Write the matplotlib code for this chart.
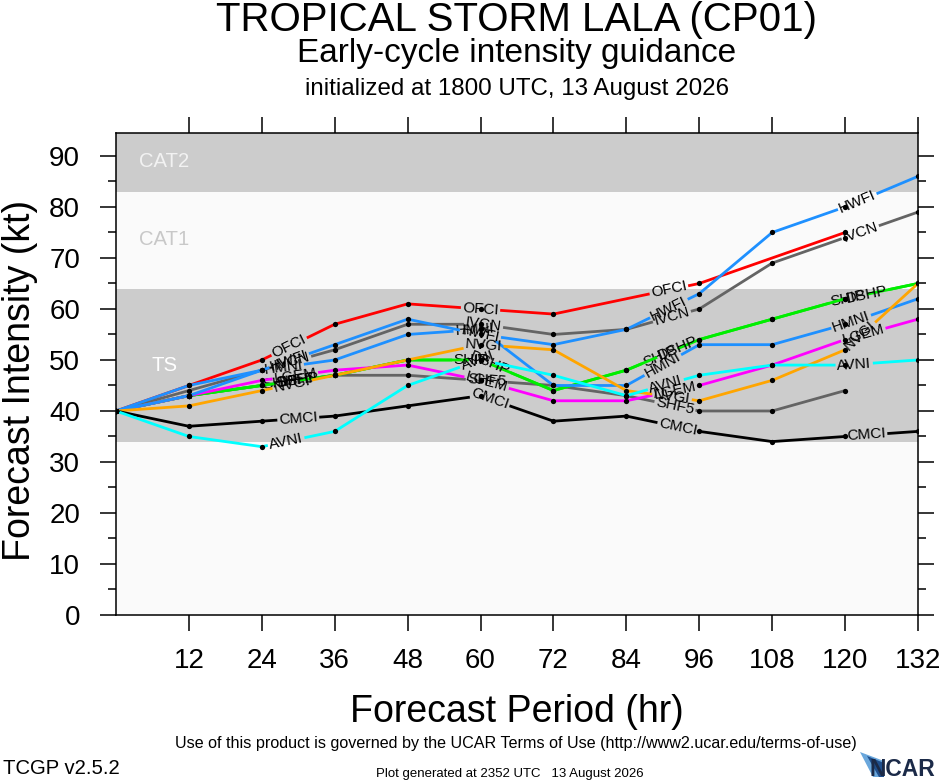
import numpy as np
import matplotlib
matplotlib.use("Agg")
import matplotlib.pyplot as plt
from matplotlib.ticker import MultipleLocator, NullLocator
from matplotlib.patches import Polygon

plt.rcParams['font.family'] = ['Liberation Sans', 'DejaVu Sans']

# ---------------- data ----------------
HOURS = [0, 12, 24, 36, 48, 60, 72, 84, 96, 108, 120, 132]
OFCI_HOURS = [0, 12, 24, 36, 48, 60, 72, 96, 120]
SHF5_HOURS = [0, 12, 24, 36, 48, 60, 72, 84, 96, 108, 120]

OFCI = [40, 45, 50, 57, 61, 60, 59, 65, 75]
HWFI = [40, 45, 48, 53, 58, 55, 53, 56, 63, 75, 80, 86]
HMNI = [40, 43, 48, 50, 55, 56, 45, 45, 53, 53, 57, 62]
IVCN = [40, 44, 48, 52, 57, 57, 55, 56, 60, 69, 74, 79]
SHF5 = [40, 43, 45, 47, 47, 46, 45, 43, 40, 40, 44]
SHIP = [40, 43, 45, 47, 50, 50, 44, 48, 54, 58, 62, 65]
DSHP = [40, 43, 45, 47, 50, 50, 44, 48, 54, 58, 62, 65]
LGEM = [40, 43, 46, 48, 49, 46, 42, 42, 45, 49, 54, 58]
NVGI = [40, 41, 44, 47, 50, 53, 52, 44, 42, 46, 52, 65]
AVNI = [40, 35, 33, 36, 45, 50, 47, 43, 47, 49, 49, 50]
CMCI = [40, 37, 38, 39, 41, 43, 38, 39, 36, 34, 35, 36]

X_TICKS = [12, 24, 36, 48, 60, 72, 84, 96, 108, 120, 132]
Y_TICKS = [0, 10, 20, 30, 40, 50, 60, 70, 80, 90]

BANDS = [(34, 64), (83, 100)]          # TS and CAT2 shading (kt)
BAND_LABELS = [("CAT2", 88.9, '#f2f2f2'), ("CAT1", 73.7, '#c8c8c8'), ("TS", 49.0, '#ffffff')]

# (name, hours, values, colour, label shift in hours)
MODELS = [
    ("OFCI", OFCI_HOURS, OFCI, '#ff0000', 0.0),
    ("SHF5", SHF5_HOURS, SHF5, '#646464', 1.0),
    ("IVCN", HOURS, IVCN, '#646464', 0.5),
    ("SHIP", HOURS, SHIP, '#00ee00', -1.5),
    ("DSHP", HOURS, DSHP, '#00ee00', 1.5),
    ("LGEM", HOURS, LGEM, '#ff00ff', 1.0),
    ("HMNI", HOURS, HMNI, '#1e90ff', -1.0),
    ("HWFI", HOURS, HWFI, '#1e90ff', 0.0),
    ("NVGI", HOURS, NVGI, '#ffa500', 0.5),
    ("CMCI", HOURS, CMCI, '#000000', 1.5),
    ("AVNI", HOURS, AVNI, '#00ffff', -0.5),
]
LABEL_AT = [28.5, 60.0, 91.0, 122.0]

# ---------------- figure ----------------
W, H = 940, 780
fig = plt.figure(figsize=(W / 100, H / 100), dpi=100)
ax_l, ax_r, ax_t, ax_b = 116, 918, 133, 615
ax = fig.add_axes([ax_l / W, 1 - ax_b / H, (ax_r - ax_l) / W, (ax_b - ax_t) / H])
ax.set_xlim(0, 132)
ax.set_ylim(0, 94.5)
ax.set_facecolor('#fafafa')
for lo, hi in BANDS:
    ax.axhspan(lo, hi, color='#cccccc', lw=0, zorder=0.5)
for txt, yv, col in BAND_LABELS:
    ax.text(8, yv, txt, ha='center', va='center', color=col, fontsize=14.6, zorder=1)

renderer = fig.canvas.get_renderer()
p0 = ax.transData.transform((0, 0))
p1 = ax.transData.transform((1, 1))
sx, sy = p1 - p0


def draw_model(name, hrs, vals, color, shift, z):
    hrs = np.asarray(hrs, float)
    vals = np.asarray(vals, float)
    gaps = []
    for c0 in LABEL_AT:
        c = c0 + shift
        if c > hrs[-1] - 3:
            continue
        yc = np.interp(c, hrs, vals)
        i = int(np.searchsorted(hrs, c))
        i = min(max(i, 1), len(hrs) - 1)
        dx = (hrs[i] - hrs[i - 1]) * sx
        dy = (vals[i] - vals[i - 1]) * sy
        ang = np.arctan2(dy, dx)
        t = ax.text(c, yc, name, ha='center', va='center', fontsize=11,
                    color='black', rotation_mode='anchor', zorder=z + 0.5)
        wpx = t.get_window_extent(renderer).width
        t.set_rotation(np.degrees(ang))
        half = (wpx / 2 + 1.5) * np.cos(ang) / sx
        gaps.append((c - half, c + half))
    start = hrs[0]
    segs = []
    for a, b in sorted(gaps):
        segs.append((start, a))
        start = b
    segs.append((start, hrs[-1]))
    for a, b in segs:
        if b <= a:
            continue
        xs = [a] + [h for h in hrs if a < h < b] + [b]
        ys = np.interp(xs, hrs, vals)
        ax.plot(xs, ys, color=color, lw=2.0, solid_capstyle='butt', zorder=z)
    ax.plot(hrs, vals, 'o', color='black', ms=3.8, mew=0, zorder=30)


for k, (name, hrs, vals, col, sh) in enumerate(MODELS):
    draw_model(name, hrs, vals, col, sh, 2 + k)

# axes / ticks
ax.set_xticks(X_TICKS)
ax.set_yticks(Y_TICKS)
ax.yaxis.set_minor_locator(MultipleLocator(5))
ax.xaxis.set_minor_locator(NullLocator())
ax.tick_params(axis='both', which='major', direction='out', length=11.5, width=1.1,
               labelsize=20, top=True, right=True, labeltop=False, labelright=False,
               color='black')
ax.tick_params(axis='y', which='major', pad=14.4)
ax.tick_params(axis='x', which='major', pad=12)
ax.tick_params(axis='y', which='minor', direction='out', length=5.8, width=1.1,
               left=True, right=True)
for s in ax.spines.values():
    s.set_linewidth(1.1)
    s.set_zorder(40)

# titles
cx = (ax_l + ax_r) / 2 / W
fig.text(cx, 1 - 31 / H, "TROPICAL STORM LALA (CP01)", ha='center', va='baseline', fontsize=29)
fig.text(cx, 1 - 62 / H, "Early-cycle intensity guidance", ha='center', va='baseline', fontsize=24)
fig.text(cx, 1 - 95 / H, "initialized at 1800 UTC, 13 August 2026", ha='center', va='baseline', fontsize=17.4)

fig.text(20 / W, 1 - 380 / H, "Forecast Intensity (kt)", rotation=90, ha='center', va='center',
         fontsize=27)
fig.text(517 / W, 1 - 722 / H, "Forecast Period (hr)", ha='center', va='baseline',
         fontsize=27)

fig.text(516 / W, 1 - 748 / H,
         "Use of this product is governed by the UCAR Terms of Use (http://www2.ucar.edu/terms-of-use)",
         ha='center', va='baseline', fontsize=11.6)
fig.text(3 / W, 1 - 774 / H, "TCGP v2.5.2", ha='left', va='baseline', fontsize=14.6)
fig.text(510 / W, 1 - 777 / H, "Plot generated at 2352 UTC   13 August 2026", ha='center',
         va='baseline', fontsize=9.5)

# NCAR logo (swoosh + text)
sw = Polygon([[860 / W, 1 - 752 / H], [884 / W, 1 - 761 / H], [884 / W, 1 - 777 / H],
              [873 / W, 1 - 777 / H]], closed=True, transform=fig.transFigure,
             facecolor='#6aa7dc', edgecolor='none')
fig.patches.append(sw)
sw2 = Polygon([[867 / W, 1 - 756 / H], [884 / W, 1 - 763 / H], [884 / W, 1 - 777 / H],
               [879 / W, 1 - 777 / H]], closed=True, transform=fig.transFigure,
              facecolor='#1f4e8c', edgecolor='none')
fig.patches.append(sw2)
fig.text(935 / W, 1 - 776 / H, "NCAR", ha='right', va='baseline', fontsize=16.5,
         fontweight='bold', color='#1b2a48')

fig.savefig("out.png", dpi=100)
